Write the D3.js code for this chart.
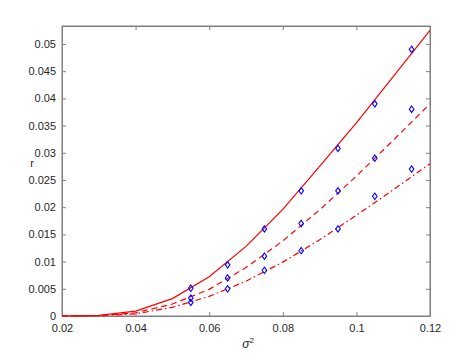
<!DOCTYPE html>
<meta charset="utf-8">
<style>
body { margin: 0; background: #fff; }
text { font-family: "Liberation Sans", Arial, sans-serif; fill: #262626; }
.axis path, .axis line { stroke: #808080; }
.axis text { font-size: 11px; }
</style>
<svg width="476" height="354"></svg>
<script src="https://cdn.jsdelivr.net/npm/d3@7/dist/d3.min.js"></script>
<script>

// curves sampled at sigma^2 = 0.02 .. 0.12
var sig = [0.02, 0.03, 0.04, 0.05, 0.06, 0.07, 0.08, 0.09, 0.10, 0.11, 0.12];
var rSolid   = [0, 0.0001, 0.0009, 0.0032, 0.0072, 0.0128, 0.0196, 0.0275, 0.0355, 0.0440, 0.0525];
var rDashed  = [0, 0.00007, 0.0006, 0.0022, 0.0049, 0.0089, 0.0138, 0.0195, 0.0257, 0.0323, 0.0390];
var rDashDot = [0, 0.00005, 0.0004, 0.0016, 0.0036, 0.0064, 0.0099, 0.0140, 0.0185, 0.0232, 0.0280];

// simulation points
var sigPts = [0.055, 0.065, 0.075, 0.085, 0.095, 0.105, 0.115];
var pts1 = [0.0051, 0.0094, 0.0160, 0.0230, 0.0308, 0.0390, 0.0490];
var pts2 = [0.0033, 0.0070, 0.0110, 0.0170, 0.0230, 0.0290, 0.0380];
var pts3 = [0.0025, 0.0050, 0.0084, 0.0120, 0.0160, 0.0220, 0.0270];

var xTicks = [0.02, 0.04, 0.06, 0.08, 0.1, 0.12];
var yTicks = d3.range(0, 0.0501, 0.005);

var svg = d3.select("svg"),
    margin = {left: 62, right: 46, top: 26, bottom: 38},
    width = +svg.attr("width") - margin.left - margin.right,
    height = +svg.attr("height") - margin.top - margin.bottom,
    g = svg.append("g").attr("transform", "translate(" + margin.left + "," + margin.top + ")");

var x = d3.scaleLinear().domain([0.02, 0.12]).range([0, width]);
var y = d3.scaleLinear().domain([0, 0.0533]).range([height, 0]);

var fmt = function(d) { return +d.toFixed(3) + ""; };

g.append("g").attr("class", "axis")
    .attr("transform", "translate(0," + height + ")")
    .call(d3.axisBottom(x).tickValues(xTicks).tickSizeInner(-4).tickSizeOuter(0).tickPadding(8).tickFormat(fmt));
g.append("g").attr("class", "axis")
    .call(d3.axisTop(x).tickValues(xTicks).tickSizeInner(-4).tickSizeOuter(0).tickFormat(""));
g.append("g").attr("class", "axis")
    .call(d3.axisLeft(y).tickValues(yTicks).tickSizeInner(-4).tickSizeOuter(0).tickPadding(6).tickFormat(fmt));
g.append("g").attr("class", "axis")
    .attr("transform", "translate(" + width + ",0)")
    .call(d3.axisRight(y).tickValues(yTicks).tickSizeInner(-4).tickSizeOuter(0).tickFormat(""));

g.append("rect").attr("width", width).attr("height", height)
    .attr("fill", "none").attr("stroke", "#808080");

var line = d3.line()
    .x(function(d) { return x(d[0]); })
    .y(function(d) { return y(d[1]); });

var curves = [
  {vals: rSolid, dash: null},
  {vals: rDashed, dash: "6,4"},
  {vals: rDashDot, dash: "6,3,1.5,3"}
];

curves.forEach(function(c) {
  g.append("path")
      .datum(sig.map(function(s, i) { return [s, c.vals[i]]; }))
      .attr("d", line)
      .attr("fill", "none")
      .attr("stroke", "#ff0000")
      .attr("stroke-width", 1.2)
      .attr("stroke-dasharray", c.dash);
});

[pts1, pts2, pts3].forEach(function(p) {
  g.selectAll(null)
    .data(sigPts.map(function(s, i) { return [s, p[i]]; }))
    .enter().append("path")
      .attr("transform", function(d) { return "translate(" + x(d[0]) + "," + y(d[1]) + ")"; })
      .attr("d", "M0,-3.2L2.3,0L0,3.2L-2.3,0Z")
      .attr("fill", "none")
      .attr("stroke", "#0000ff")
      .attr("stroke-width", 1.1);
});

svg.append("text")
    .attr("x", 32).attr("y", 167)
    .attr("text-anchor", "middle")
    .style("font-size", "11px")
    .text("r");

var xl = svg.append("text")
    .attr("x", margin.left + width / 2 + 2).attr("y", 348)
    .attr("text-anchor", "middle")
    .style("font-size", "12px")
    .style("font-style", "italic");
xl.append("tspan").text("σ");
xl.append("tspan").attr("dy", -5).style("font-size", "8px").style("font-style", "normal").text("2");

</script>
